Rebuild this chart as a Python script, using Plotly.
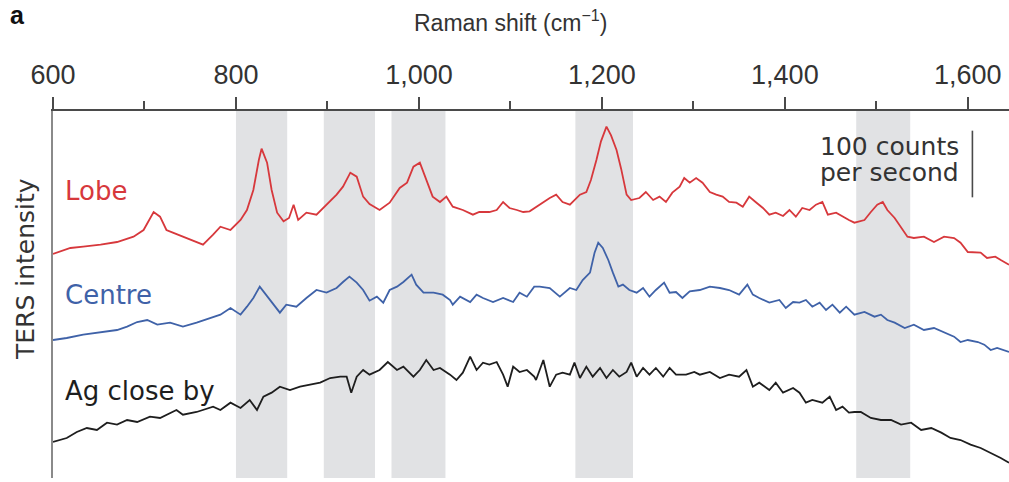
import plotly.graph_objects as go

# Raman shift (cm^-1) and intensity (counts per second) for each spectrum
lobe_shift = [600, 619, 633, 652, 670, 688, 699, 710, 717, 724, 731, 742, 753, 764, 775,
              783, 794, 805, 812, 819, 825, 828, 834, 839, 845, 852, 858, 863, 868, 877,
              888, 899, 910, 917, 925, 932, 939, 946, 957, 968, 979, 987, 994, 1001, 1008,
              1015, 1023, 1030, 1037, 1048, 1059, 1066, 1077, 1085, 1092, 1099, 1107, 1114,
              1121, 1132, 1143, 1150, 1157, 1165, 1176, 1183, 1188, 1194, 1199, 1205, 1210,
              1216, 1221, 1227, 1232, 1241, 1248, 1256, 1263, 1270, 1277, 1285, 1290, 1296,
              1303, 1310, 1318, 1325, 1332, 1339, 1347, 1354, 1361, 1368, 1376, 1383, 1390,
              1398, 1405, 1412, 1419, 1427, 1434, 1441, 1447, 1456, 1463, 1470, 1476, 1487,
              1494, 1501, 1507, 1512, 1520, 1527, 1534, 1541, 1552, 1563, 1574, 1585, 1592,
              1600, 1607, 1614, 1621, 1630, 1636, 1645]
lobe_cps = [339, 348, 350, 353, 357, 365, 375, 402, 395, 375, 371, 365, 360, 353, 368,
            380, 375, 390, 405, 435, 480, 497, 476, 435, 401, 388, 393, 413, 390, 401,
            398, 413, 428, 440, 461, 455, 425, 414, 405, 416, 438, 446, 470, 476, 450,
            425, 417, 425, 410, 405, 398, 402, 402, 405, 417, 408, 405, 402,
            403, 413, 423, 428, 417, 413, 428, 432, 450, 480, 508, 530, 517,
            495, 467, 428, 420, 423, 432, 420, 425, 417, 431, 440, 453, 446,
            453, 446, 432, 428, 425, 417, 416, 410, 425, 417, 408, 398, 401,
            396, 405, 395, 408, 405, 413, 417, 398, 401, 395, 390, 386, 390,
            402, 413, 417, 405, 393, 378, 365, 363, 365, 357, 365, 363, 356,
            342, 341, 341, 333, 335, 330, 323]

centre_shift = [600, 615, 633, 652, 670, 681, 692, 703, 714, 728, 742, 757, 775,
                783, 794, 805, 812, 819, 826, 831, 839, 848, 855, 866, 877, 888, 899,
                910, 917, 924, 932, 939, 946, 954, 961, 968, 976, 983, 992, 997, 1005,
                1016, 1026, 1034, 1037, 1045, 1056, 1063, 1070, 1081, 1092, 1103, 1110,
                1118, 1126, 1132, 1143, 1154, 1165, 1172, 1179, 1187, 1192, 1196, 1201,
                1207, 1212, 1218, 1223, 1230, 1238, 1245, 1252, 1259, 1268, 1274, 1281,
                1288, 1296, 1307, 1318, 1329, 1339, 1350, 1359, 1365, 1372, 1383, 1394,
                1401, 1409, 1416, 1423, 1430, 1438, 1445, 1452, 1460, 1467, 1476, 1487,
                1498, 1505, 1512, 1520, 1531, 1541, 1552, 1563, 1574, 1585, 1592, 1600,
                1611, 1618, 1625, 1632, 1645]
centre_cps = [210, 213, 218, 222, 225, 230, 237, 240, 233, 236, 230, 236, 245,
              248, 258, 248, 260, 273, 290, 281, 266, 251, 263, 260, 273, 285, 281,
              288, 297, 305, 296, 285, 269, 275, 266, 285, 290, 297, 308, 293, 281,
              281, 278, 270, 263, 275, 267, 278, 273, 267, 273, 267, 281,
              275, 290, 290, 288, 275, 288, 285, 300, 311, 341, 356, 348,
              330, 311, 290, 293, 285, 281, 288, 275, 285, 296, 281, 282,
              273, 283, 285, 290, 288, 285, 278, 293, 278, 273, 266, 270,
              258, 267, 266, 270, 260, 266, 255, 263, 251, 260, 248, 252,
              245, 248, 240, 236, 228, 233, 225, 228, 221, 215, 207, 210,
              207, 203, 195, 198, 192]

ag_shift = [600, 615, 626, 637, 648, 659, 670, 681, 692, 706, 717, 735, 742, 757, 775,
            783, 794, 805, 815, 823, 830, 839, 848, 859, 870, 881, 892, 903, 914, 921,
            926, 932, 939, 946, 957, 966, 976, 983, 994, 1001, 1008, 1016, 1023, 1034,
            1041, 1048, 1056, 1063, 1070, 1077, 1085, 1092, 1097, 1103, 1110, 1118, 1126,
            1128, 1136, 1143, 1150, 1157, 1165, 1170, 1176, 1183, 1190, 1198, 1205, 1212,
            1219, 1227, 1232, 1238, 1245, 1252, 1259, 1267, 1274, 1281, 1292, 1301, 1307,
            1318, 1329, 1339, 1350, 1358, 1365, 1372, 1383, 1390, 1398, 1409, 1416, 1423,
            1430, 1441, 1449, 1456, 1463, 1470, 1476, 1483, 1494, 1505, 1516, 1527, 1538,
            1549, 1560, 1571, 1581, 1592, 1603, 1614, 1625, 1636, 1645]
ag_cps = [57, 63, 72, 78, 75, 86, 83, 90, 87, 95, 93, 105, 98, 102, 110,
          105, 116, 108, 120, 105, 125, 131, 140, 135, 140, 143, 146, 153, 155, 155,
          131, 155, 165, 158, 165, 177, 165, 170, 155, 165, 180, 165, 168, 158,
          150, 161, 185, 165, 176, 173, 177, 158, 140, 170, 162, 165, 155,
          150, 180, 140, 158, 161, 158, 176, 153, 170, 155, 168, 153, 165,
          155, 162, 176, 155, 168, 158, 168, 155, 168, 158, 158, 162, 158,
          162, 153, 158, 155, 165, 140, 146, 135, 146, 131, 138, 131, 116,
          120, 116, 125, 105, 110, 101, 102, 102, 93, 90, 90, 83, 86,
          75, 78, 71, 63, 60, 53, 48, 41, 33, 26]

# Highlighted Raman bands (cm^-1)
band_edges = [(800, 856), (896, 952), (970, 1029), (1171, 1234), (1478, 1537)]

major_ticks = [600, 800, 1000, 1200, 1400, 1600]
minor_ticks = [700, 900, 1100, 1300, 1500]
scale_bar_cps = 100
scale_bar_top = 524
scale_bar_shift = 1605

RED = "#d7383c"
BLUE = "#3f62a8"
BLACK = "#1e1e1e"
AXIS = "#4a4a4a"
LABEL_FONT = "DejaVu Sans, Liberation Sans, sans-serif"
AXIS_FONT = "Liberation Sans, Arial, sans-serif"

fig = go.Figure()

for b0, b1 in band_edges:
    fig.add_vrect(x0=b0, x1=b1, fillcolor="#e1e2e4", opacity=1,
                  line_width=0, layer="below")

for xs, ys, col in [(lobe_shift, lobe_cps, RED),
                    (centre_shift, centre_cps, BLUE),
                    (ag_shift, ag_cps, BLACK)]:
    fig.add_trace(go.Scatter(x=xs, y=ys, mode="lines",
                             line=dict(color=col, width=1.8),
                             hoverinfo="skip"))

# Spectrum labels
for label, yv, col in [("Lobe", 433, RED), ("Centre", 278, BLUE),
                       ("Ag close by", 134, BLACK)]:
    fig.add_annotation(x=611, y=yv, xref="x", yref="y", text=label,
                       showarrow=False, xanchor="left", yanchor="middle",
                       font=dict(family=LABEL_FONT, size=26, color=col))

# Scale bar
fig.add_shape(type="line", xref="x", yref="y",
              x0=scale_bar_shift, x1=scale_bar_shift,
              y0=scale_bar_top - scale_bar_cps, y1=scale_bar_top,
              line=dict(color=AXIS, width=1.6))
fig.add_annotation(x=1592, y=500, xref="x", yref="y", text=f"{scale_bar_cps} counts",
                   showarrow=False, xanchor="right", yanchor="middle",
                   font=dict(family=LABEL_FONT, size=25, color="#333333"))
fig.add_annotation(x=1592, y=461, xref="x", yref="y", text="per second",
                   showarrow=False, xanchor="right", yanchor="middle",
                   font=dict(family=LABEL_FONT, size=25, color="#333333"))

# Axis titles and panel letter
fig.add_annotation(x=1100, y=1.245, xref="x", yref="paper",
                   text="Raman shift (cm<sup>\u22121</sup>)", showarrow=False,
                   xanchor="center", yanchor="middle",
                   font=dict(family=AXIS_FONT, size=23, color="#333333"))
fig.add_annotation(x=-0.037, y=1.262, xref="paper", yref="paper", text="<b>a</b>",
                   showarrow=False, xanchor="center", yanchor="middle",
                   font=dict(family=AXIS_FONT, size=25, color="#111111"))
fig.add_annotation(x=-0.028, y=0.57, xref="paper", yref="paper", text="TERS intensity",
                   showarrow=False, textangle=-90, xanchor="center", yanchor="middle",
                   font=dict(family=LABEL_FONT, size=25, color="#333333"))

fig.update_layout(width=1009, height=482,
                  margin=dict(l=53, r=0, t=111, b=4),
                  plot_bgcolor="white", paper_bgcolor="white",
                  showlegend=False)
fig.update_xaxes(side="top", range=[600, 1645], tickvals=major_ticks,
                 tickformat=",d", ticks="outside", ticklen=12, tickwidth=2,
                 tickcolor=AXIS, showline=True, linecolor=AXIS, linewidth=2,
                 showgrid=False, zeroline=False, ticklabelstandoff=2,
                 tickfont=dict(family=AXIS_FONT, size=27, color="#333333"),
                 minor=dict(tickvals=minor_ticks, ticks="outside", ticklen=8,
                            tickwidth=2, tickcolor=AXIS, showgrid=False))
fig.update_yaxes(range=[3, 553.5], showline=True, linecolor="#8a8a8a", linewidth=2,
                 showticklabels=False, ticks="", showgrid=False, zeroline=False)

fig.write_html("out.html")
